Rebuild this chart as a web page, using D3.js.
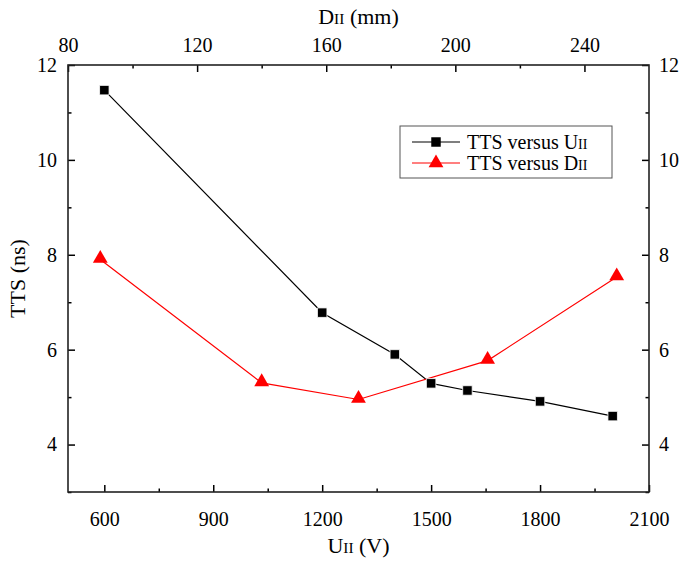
<!DOCTYPE html>
<html>
<head>
<meta charset="utf-8">
<script src="https://cdn.jsdelivr.net/npm/d3@7"></script>
<style>
  body { margin: 0; background: #fff; }
  svg text { fill: #000; }
</style>
</head>
<body>
<div id="vis-container"></div>
<script>
// TTS versus U_II (bottom axis)
const uValues = [600, 1200, 1400, 1500, 1600, 1800, 2000];
const ttsU = [11.47, 6.78, 5.9, 5.29, 5.14, 4.91, 4.6];
// TTS versus D_II (top axis)
const dValues = [90, 140, 170, 210, 250];
const ttsD = [7.9, 5.3, 4.95, 5.77, 7.53];

const xTicksMajor = [600, 900, 1200, 1500, 1800, 2100];
const xTicksMinor = [750, 1050, 1350, 1650, 1950];
const topTicksMajor = [80, 120, 160, 200, 240];
const topTicksMinor = [100, 140, 180, 220];
const yTicksMajor = [4, 6, 8, 10, 12];
const yTicksMinor = [3, 5, 7, 9, 11];

const FONT = "'Liberation Serif', 'Times New Roman', serif";

const width = 685;
const height = 562;
const padding = { top: 65, right: 36, bottom: 70, left: 68 };
const plotW = width - padding.left - padding.right;
const plotH = height - padding.top - padding.bottom;

const xScale = d3.scaleLinear().domain([500, 2100]).range([0, plotW]);
const dScale = d3.scaleLinear().domain([80, 260]).range([0, plotW]);
const yScale = d3.scaleLinear().domain([3, 12]).range([plotH, 0]);

const svg = d3.select('#vis-container').append('svg')
    .attr('width', width)
    .attr('height', height);

const g = svg.append('g')
    .attr('transform', `translate(${padding.left} ${padding.top})`);

// axis helper: major ticks with labels, minor ticks without
function drawAxis(gen, scale, major, minor, transform, pad) {
  const ax = g.append('g').attr('transform', transform);
  ax.call(gen(scale).tickValues(minor).tickSize(-3.5).tickFormat(''));
  const ax2 = g.append('g').attr('transform', transform);
  ax2.call(gen(scale).tickValues(major).tickSize(-7).tickPadding(pad)
    .tickFormat(d3.format('d')));
  [ax, ax2].forEach(a => {
    a.attr('font-family', FONT).attr('font-size', 20);
    a.select('.domain').remove();
    a.selectAll('line').attr('stroke', '#000').attr('stroke-width', 1.5);
  });
  return ax2;
}

drawAxis(d3.axisBottom, xScale, xTicksMajor, xTicksMinor, `translate(0 ${plotH})`, 20);
drawAxis(d3.axisTop, dScale, topTicksMajor, topTicksMinor, 'translate(0 0)', 13);
drawAxis(d3.axisLeft, yScale, yTicksMajor, yTicksMinor, 'translate(0 0)', 11);
drawAxis(d3.axisRight, yScale, yTicksMajor, yTicksMinor, `translate(${plotW} 0)`, 10);

// frame
g.append('rect')
  .attr('width', plotW).attr('height', plotH)
  .attr('fill', 'none').attr('stroke', '#222').attr('stroke-width', 1.6);

// axis titles
function titleWithSub(sel, main, sub, rest) {
  sel.attr('font-family', FONT);
  sel.append('tspan').text(main);
  sel.append('tspan').text(sub).attr('font-size', '0.7em');
  sel.append('tspan').text(rest);
}
titleWithSub(svg.append('text')
  .attr('x', padding.left + plotW / 2).attr('y', 24)
  .attr('text-anchor', 'middle').attr('font-size', 22), 'D', 'II', ' (mm)');
titleWithSub(svg.append('text')
  .attr('x', padding.left + plotW / 2).attr('y', 553)
  .attr('text-anchor', 'middle').attr('font-size', 22), 'U', 'II', ' (V)');
svg.append('text')
  .attr('transform', `translate(25 ${padding.top + plotH / 2}) rotate(-90)`)
  .attr('text-anchor', 'middle').attr('font-size', 22).attr('font-family', FONT)
  .text('TTS (ns)');

const lineU = d3.line()
  .x((d, i) => xScale(uValues[i]))
  .y(d => yScale(d));
const lineD = d3.line()
  .x((d, i) => dScale(dValues[i]))
  .y(d => yScale(d));

g.append('path').datum(ttsU)
  .attr('fill', 'none').attr('stroke', '#000').attr('stroke-width', 1.2)
  .attr('d', lineU);
g.append('path').datum(ttsD)
  .attr('fill', 'none').attr('stroke', '#f00').attr('stroke-width', 1.2)
  .attr('d', lineD);

const square = d3.symbol().type(d3.symbolSquare).size(90);
const triangle = d3.symbol().type(d3.symbolTriangle).size(95);

g.selectAll('.sq').data(ttsU).enter().append('path')
  .attr('d', square)
  .attr('transform', (d, i) => `translate(${xScale(uValues[i])} ${yScale(d)})`)
  .attr('fill', '#000').attr('stroke', '#fff').attr('stroke-width', 0.8);
g.selectAll('.tri').data(ttsD).enter().append('path')
  .attr('d', triangle)
  .attr('transform', (d, i) => `translate(${dScale(dValues[i])} ${yScale(d) - 1})`)
  .attr('fill', '#f00');

// legend
const leg = svg.append('g').attr('transform', 'translate(400 126)');
leg.append('rect').attr('width', 212).attr('height', 52)
  .attr('fill', '#fff').attr('stroke', '#555').attr('stroke-width', 1);
const legItems = [
  { color: '#000', sym: square, label: 'U', dy: 16 },
  { color: '#f00', sym: triangle, label: 'D', dy: 37 }
];
legItems.forEach(it => {
  leg.append('line').attr('x1', 12).attr('x2', 60)
    .attr('y1', it.dy).attr('y2', it.dy)
    .attr('stroke', it.color).attr('stroke-width', 1.2);
  leg.append('path').attr('d', it.sym)
    .attr('transform', `translate(36 ${it.dy})`).attr('fill', it.color);
  const t = leg.append('text').attr('x', 67).attr('y', it.dy + 7)
    .attr('font-size', 20);
  titleWithSub(t, 'TTS versus ' + it.label, 'II', '');
});
</script>
</body>
</html>
